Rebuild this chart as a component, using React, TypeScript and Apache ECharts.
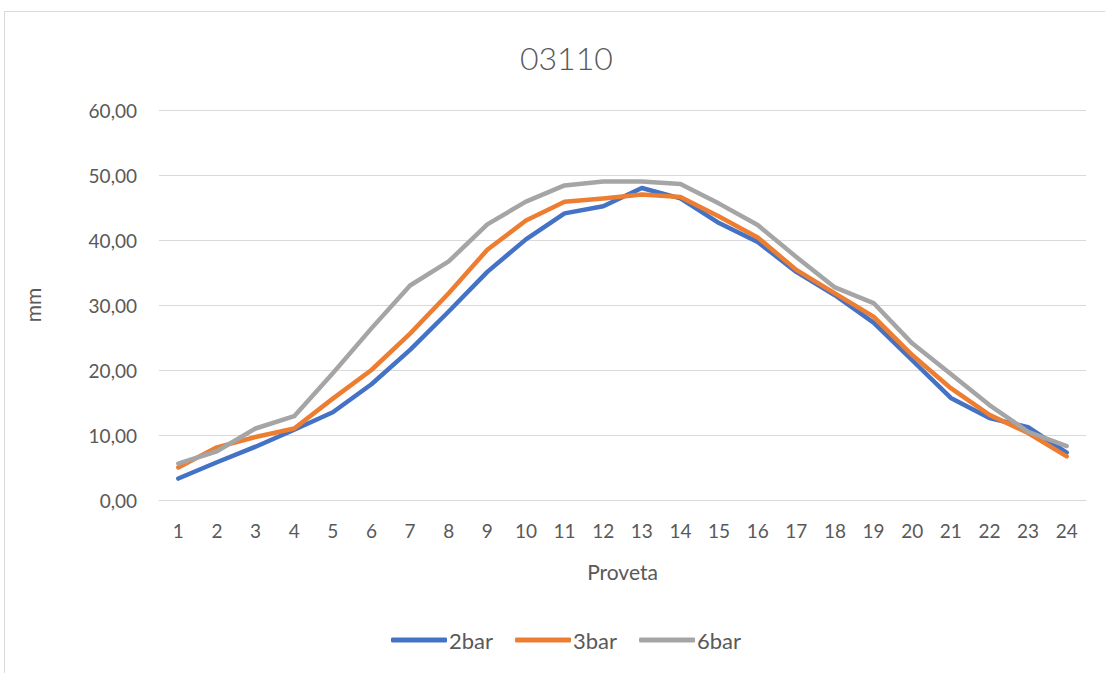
import React, { useEffect, useRef } from "react";
import * as echarts from "echarts";

const categories = [
  "1", "2", "3", "4", "5", "6", "7", "8", "9", "10", "11", "12",
  "13", "14", "15", "16", "17", "18", "19", "20", "21", "22", "23", "24",
];

const bar2 = [
  3.3, 5.8, 8.2, 10.8, 13.5, 17.8, 23.1, 29.0, 35.1, 40.1, 44.1, 45.2,
  48.0, 46.4, 42.6, 39.7, 35.1, 31.5, 27.3, 21.5, 15.7, 12.6, 11.2, 7.3,
];

const bar3 = [
  5.0, 8.1, 9.7, 11.0, 15.6, 20.0, 25.6, 31.8, 38.5, 43.0, 45.9, 46.4,
  47.0, 46.6, 43.6, 40.4, 35.4, 31.8, 28.2, 22.3, 17.2, 13.1, 10.3, 6.7,
];

const bar6 = [
  5.6, 7.5, 11.0, 12.9, 19.5, 26.4, 33.0, 36.7, 42.4, 45.9, 48.4, 49.0,
  49.0, 48.6, 45.6, 42.3, 37.4, 32.7, 30.3, 24.1, 19.4, 14.6, 10.5, 8.3,
];

const yTicks = { min: 0, max: 60, interval: 10 };

const FONT = "Lato, 'Open Sans', sans-serif";
const TEXT = "#595959";
const GRID = "#D9D9D9";

export default function App() {
  const ref = useRef<HTMLDivElement>(null);

  useEffect(() => {
    if (!ref.current) return;
    const chart = echarts.init(ref.current, undefined, { renderer: "svg" });

    const line = (name: string, data: number[], color: string) => ({
      name,
      type: "line",
      data,
      symbol: "none",
      smooth: false,
      lineStyle: { color, width: 4.5, cap: "round", join: "round" },
      itemStyle: { color },
    });

    chart.setOption({
      animation: false,
      backgroundColor: "#ffffff",
      textStyle: { fontFamily: FONT },
      title: {
        text: "03110",
        left: 515,
        top: 36,
        textStyle: { fontFamily: FONT, fontSize: 32, fontWeight: 300, color: TEXT },
      },
      graphic: [
        {
          type: "rect",
          shape: { x: 4.5, y: 11.5, width: 1120, height: 680 },
          style: { fill: "none", stroke: GRID, lineWidth: 1 },
          silent: true,
        },
      ],
      grid: { left: 159, right: 19, top: 110, bottom: 173, containLabel: false },
      legend: {
        data: ["2bar", "3bar", "6bar"],
        left: 386,
        top: 624,
        icon: "roundRect",
        itemWidth: 56,
        itemHeight: 5,
        itemGap: 22,
        textStyle: { fontFamily: FONT, fontSize: 22, color: TEXT, padding: [0, 0, 0, -3] },
      },
      xAxis: {
        type: "category",
        data: categories,
        boundaryGap: true,
        name: "Proveta",
        nameLocation: "middle",
        nameGap: 61,
        nameTextStyle: { fontFamily: FONT, fontSize: 21, color: TEXT },
        axisLine: { show: true, lineStyle: { color: GRID, width: 1 } },
        axisTick: { show: false },
        axisLabel: { fontFamily: FONT, fontSize: 19, color: TEXT, margin: 21 },
        splitLine: { show: false },
      },
      yAxis: {
        type: "value",
        min: yTicks.min,
        max: yTicks.max,
        interval: yTicks.interval,
        name: "mm",
        nameLocation: "middle",
        nameGap: 116,
        nameTextStyle: { fontFamily: FONT, fontSize: 21, color: TEXT },
        axisLine: { show: false },
        axisTick: { show: false },
        axisLabel: {
          fontFamily: FONT,
          fontSize: 19,
          color: TEXT,
          margin: 22,
          formatter: (v: number) => v.toFixed(2).replace(".", ","),
        },
        splitLine: { show: true, lineStyle: { color: GRID, width: 1 } },
      },
      series: [
        line("2bar", bar2, "#4472C4"),
        line("3bar", bar3, "#ED7D31"),
        line("6bar", bar6, "#A5A5A5"),
      ],
    });

    return () => chart.dispose();
  }, []);

  return (
    <div
      ref={ref}
      style={{ position: "absolute", left: 0, top: 0, width: 1105, height: 673 }}
    />
  );
}
